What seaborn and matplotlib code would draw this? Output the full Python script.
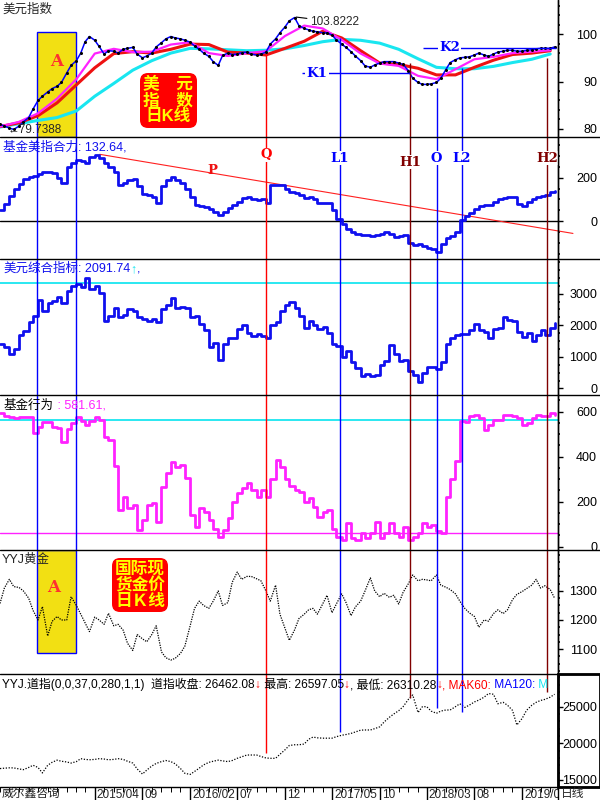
import matplotlib
matplotlib.use("Agg")
import matplotlib.pyplot as plt
import matplotlib.dates as mdates
from matplotlib.lines import Line2D
from matplotlib.patches import Rectangle, FancyBboxPatch
from matplotlib.ticker import FixedLocator, MultipleLocator
from matplotlib.transforms import offset_copy
import seaborn as sns
import pandas as pd

sns.set_style("white")
plt.rcParams["font.family"] = ["Liberation Sans", "Noto Sans CJK SC", "DejaVu Sans"]
plt.rcParams["axes.unicode_minus"] = False

# ---- data ----
dates = pd.date_range("2014-06-01", "2019-04-15", freq="SMS")
ma_dates = pd.date_range("2014-06-01", "2019-04-01", freq="2MS")

dxy = [81.0, 80.6, 80.2, 79.9, 80.6, 81.5, 82.4, 84.2, 86.0, 86.9,
       87.8, 88.5, 89.0, 89.8, 91.8, 93.4, 94.4, 96.0, 98.4, 99.5,
       98.7, 97.4, 95.8, 96.5, 96.4, 96.0, 96.8, 97.0, 97.2, 95.8,
       95.0, 95.4, 96.0, 97.3, 98.2, 99.0, 99.5, 99.2, 99.0, 98.7,
       98.3, 97.5, 96.8, 96.0, 95.3, 94.2, 93.4, 95.5, 96.0, 95.7,
       95.8, 96.1, 96.2, 95.8, 95.6, 95.8, 96.2, 97.9, 99.0, 100.3,
       101.5, 102.8, 103.5, 101.8, 101.2, 100.9, 100.6, 100.5, 100.3, 100.3,
       99.8, 98.8, 97.9, 97.2, 96.3, 95.4, 94.4, 93.3, 93.0, 93.5,
       93.9, 94.2, 94.2, 94.2, 93.9, 93.6, 92.3, 90.7, 89.8, 89.4,
       89.4, 89.5, 89.8, 90.7, 92.5, 94.0, 94.6, 95.0, 95.1, 95.2,
       95.6, 96.0, 95.6, 95.3, 95.8, 96.2, 96.4, 96.6, 96.6, 96.4,
       96.4, 96.6, 96.7, 96.9, 97.0, 97.0, 97.0, 97.3]
ma_magenta = [80.5, 81.5, 83.3, 86.4, 90.5, 95.9, 96.9, 96.2, 96.3, 97.8,
              98.3, 96.0, 95.4, 96.0, 96.4, 99.6, 101.8, 101.2, 98.8, 95.9,
              93.8, 93.3, 91.2, 90.5, 92.6, 94.7, 95.2, 96.0, 96.3, 96.6]
ma_red = [80.5, 81.3, 82.8, 85.5, 89.3, 92.9, 95.9, 96.3, 96.0, 96.8,
          97.9, 97.8, 96.2, 96.0, 95.6, 97.0, 98.5, 100.6, 99.2, 96.5,
          93.9, 93.6, 92.8, 91.4, 91.4, 93.0, 94.5, 95.7, 96.0, 96.5]
ma_cyan = [80.4, 81.1, 81.8, 82.4, 83.8, 86.9, 89.6, 92.4, 94.4, 96.0,
           97.0, 96.9, 96.7, 96.5, 96.6, 96.9, 97.6, 98.4, 98.9, 98.7,
           98.1, 96.8, 94.8, 93.0, 92.7, 92.7, 93.2, 94.0, 94.7, 95.8]

fund_force = [51, 80, 115, 148, 170, 192, 203, 210, 218, 228,
              226, 222, 200, 178, 250, 268, 280, 275, 266, 297,
              303, 290, 268, 248, 225, 168, 178, 188, 196, 160,
              126, 122, 112, 85, 160, 190, 205, 190, 175, 150,
              110, 74, 70, 67, 55, 40, 30, 40, 59, 75,
              88, 105, 110, 100, 98, 103, 85, 165, 168, 166,
              150, 135, 128, 120, 108, 112, 100, 82, 82, 82,
              50, 10, -15, -38, -50, -58, -65, -62, -68, -65,
              -58, -50, -58, -72, -68, -65, -100, -111, -108, -115,
              -124, -130, -142, -105, -80, -70, -52, 5, 22, 36,
              55, 68, 72, 74, 90, 100, 108, 112, 112, 80,
              70, 89, 102, 112, 116, 122, 135, 140]

usd_composite = [1411, 1320, 1100, 1250, 1700, 1830, 2100, 2300, 2810, 2450,
                 2705, 2760, 2900, 2700, 3100, 3230, 3300, 3200, 3500, 3150,
                 3250, 3020, 2150, 2300, 2550, 2250, 2340, 2520, 2450, 2250,
                 2200, 2150, 2200, 2100, 2500, 2650, 2850, 2550, 2580, 2550,
                 2250, 2280, 2050, 1850, 1300, 1450, 900, 1400, 1600, 1600,
                 1880, 2000, 1750, 1650, 1720, 1650, 1600, 2000, 2100, 2450,
                 2650, 2750, 2550, 2300, 1900, 2150, 2000, 1880, 1950, 1750,
                 1420, 1340, 1000, 1180, 850, 650, 380, 450, 400, 440,
                 750, 880, 1380, 1100, 880, 900, 550, 440, 200, 500,
                 680, 680, 620, 850, 1400, 1600, 1690, 1720, 1730, 1850,
                 2050, 1850, 1780, 1600, 1870, 1920, 2250, 2160, 2140, 1800,
                 1620, 1750, 1500, 1680, 1850, 1700, 1900, 2080]

fund_action = [593, 580, 575, 570, 575, 578, 578, 504, 530, 556,
               556, 533, 526, 467, 525, 548, 578, 560, 540, 560,
               578, 563, 489, 474, 360, 163, 222, 170, 185, 74,
               119, 185, 193, 111, 267, 326, 378, 356, 363, 304,
               141, 89, 170, 156, 120, 80, 44, 74, 126, 200,
               237, 260, 281, 252, 222, 250, 222, 300, 385, 356,
               300, 270, 252, 244, 200, 215, 178, 130, 156, 163,
               80, 44, 30, 104, 37, 30, 59, 40, 60, 111,
               37, 60, 104, 59, 44, 89, 30, 45, 59, 104,
               89, 96, 70, 59, 222, 300, 380, 560, 556, 580,
               585, 570, 520, 540, 563, 563, 585, 585, 580, 570,
               540, 550, 570, 585, 580, 582, 593, 585]

gold = [1257, 1310, 1340, 1315, 1312, 1300, 1275, 1233, 1200, 1246,
        1145, 1195, 1212, 1200, 1200, 1280, 1250, 1220, 1190, 1160,
        1210, 1200, 1185, 1223, 1180, 1185, 1165, 1120, 1095, 1150,
        1135, 1125, 1150, 1180, 1090, 1070, 1062, 1068, 1085, 1110,
        1180, 1240, 1265, 1250, 1240, 1265, 1300, 1250, 1260, 1330,
        1365, 1340, 1350, 1350, 1342, 1335, 1300, 1265, 1320, 1220,
        1172, 1130, 1166, 1205, 1220, 1235, 1240, 1220, 1255, 1285,
        1225, 1255, 1290, 1260, 1215, 1245, 1265, 1300, 1345, 1300,
        1280, 1292, 1278, 1285, 1255, 1295, 1325, 1355, 1335, 1340,
        1338, 1335, 1355, 1320, 1313, 1305, 1290, 1265, 1240, 1225,
        1212, 1175, 1200, 1196, 1222, 1235, 1222, 1235, 1270, 1288,
        1298, 1308, 1320, 1340, 1310, 1318, 1305, 1275]

dow = [16550, 16600, 16650, 16640, 16500, 16400, 16700, 17000, 16700, 15950,
       17000, 17400, 17700, 17550, 17450, 17300, 17500, 17900, 17800, 17750,
       17800, 17900, 17850, 17750, 17800, 17900, 17800, 17550, 17300, 16500,
       15800, 16350, 16900, 17250, 17500, 17650, 17500, 17200, 16550, 15900,
       15750, 16150, 16600, 17050, 17400, 17550, 17700, 17600, 17500, 17650,
       17950, 18150, 18400, 18400, 18400, 18200, 18000, 17950, 17950, 18500,
       19100, 19700, 19800, 19800, 19900, 20550, 20850, 20750, 20700, 20700,
       20700, 20900, 21100, 21200, 21350, 21550, 21800, 21820, 21820, 22000,
       22250, 22900, 23550, 24000, 24450, 25000, 26000, 26600, 24200, 25000,
       25000, 24400, 24100, 24400, 24550, 24550, 25000, 25400, 24900, 25200,
       25650, 25900, 26300, 26800, 26700, 25400, 25600, 25200, 24500, 22500,
       23400, 24500, 25200, 25600, 25850, 26000, 26300, 26700]

# marker lines
ev_names = ["Q", "L1", "H1", "O", "L2", "H2"]
ev_dates = pd.to_datetime(["2016-10-02", "2017-05-26", "2018-01-07",
                           "2018-04-02", "2018-06-21", "2019-03-23"])
ev_colors = ["#ff0000", "#0000ff", "#800000", "#0000ff", "#0000ff", "#800000"]
ev_top_dxy = [95.6, 99.2, 93.9, 88.6, 92.8, 94.9]
ev_end_dow = [18675, 21544, 26188, 24822, 24276, 27008]
ev_label_y = [305, 291, 272, 291, 291, 291]

a_start, a_end = pd.Timestamp("2014-09-28"), pd.Timestamp("2015-02-01")
k1_level, k1_span, k1_at = 91.8, pd.to_datetime(["2017-01-24", "2018-01-07"]), pd.Timestamp("2017-03-13")
k2_level, k2_span, k2_at = 97.15, pd.to_datetime(["2018-02-17", "2019-04-19"]), pd.Timestamp("2018-05-13")
p_dates = pd.to_datetime(["2015-04-17", "2019-06-13"])
p_vals = [308, -57]

tick_dates = pd.to_datetime(["2015-04-01", "2015-09-01", "2016-02-01", "2016-07-01", "2016-12-01",
                             "2017-05-01", "2017-10-01", "2018-03-01", "2018-08-01", "2019-01-01"])
tick_labels = ["2015/04", "09", "2016/02", "07", "12", "2017/05", "10", "2018/03", "08", "2019/0"]

x_start, x_end = pd.Timestamp("2014-06-01"), pd.Timestamp("2019-04-26")

# ---- figure ----
W, H = 600, 800
fig = plt.figure(figsize=(6, 8), dpi=100)
fig.patch.set_facecolor("white")


def panel(top, bottom):
    return fig.add_axes([0, 1 - bottom / H, 558 / W, (bottom - top) / H])


def style(ax, lo, hi, majors, minor):
    ax.set_xlim(x_start, x_end)
    ax.set_ylim(lo, hi)
    ax.set_xticks([])
    ax.set_xlabel("")
    ax.set_ylabel("")
    ax.yaxis.tick_right()
    ax.yaxis.set_major_locator(FixedLocator(majors))
    ax.yaxis.set_minor_locator(MultipleLocator(minor))
    ax.tick_params(axis="y", which="major", right=True, direction="out", length=3.6,
                   width=1, color="black", labelsize=9, pad=24.5, labelcolor="black")
    ax.tick_params(axis="y", which="minor", right=True, direction="out", length=1.2,
                   width=1.2, color="black")
    for lab in ax.get_yticklabels():
        lab.set_horizontalalignment("right")
    for s in ("left", "top", "bottom"):
        ax.spines[s].set_visible(False)
    ax.spines["right"].set_color("black")
    ax.spines["right"].set_linewidth(1)


def ftext(x, y, s, **kw):
    kw.setdefault("fontsize", 8.5)
    kw.setdefault("va", "center")
    kw.setdefault("ha", "left")
    return fig.text(x / W, 1 - y / H, s, **kw)


def chain(ax, x, y, parts, size=8.5):
    t = ftext(x, y, parts[0][0], color=parts[0][1], fontsize=size, va="baseline")
    for s, c in parts[1:]:
        t = ax.annotate(s, xy=(1, 0), xycoords=t, va="bottom", ha="left",
                        color=c, fontsize=size)
    return t


def red_box(x0, y0, x1, y1):
    fig.add_artist(FancyBboxPatch((x0 / 100, (H - y1) / 100), (x1 - x0) / 100, (y1 - y0) / 100,
                                  boxstyle="round,pad=0,rounding_size=0.08",
                                  transform=fig.dpi_scale_trans, facecolor="#ff0000",
                                  edgecolor="none", zorder=5))


serif = dict(family="DejaVu Serif", fontweight="bold")

# panel 1: dollar index
ax1 = panel(0, 137)
ax1.axvspan(a_start, a_end, ymin=0, ymax=(100.4 - 78.3) / (107.2 - 78.3),
            facecolor="#f2e013", edgecolor="blue", lw=1, zorder=0)
sns.lineplot(x=ma_dates, y=ma_cyan, ax=ax1, color="#19e6f0", lw=2.2, estimator=None)
sns.lineplot(x=ma_dates, y=ma_red, ax=ax1, color="#ee1111", lw=2.2, estimator=None)
sns.lineplot(x=ma_dates, y=ma_magenta, ax=ax1, color="#ff22ff", lw=1.6, estimator=None)
sns.lineplot(x=dates, y=dxy, ax=ax1, color="blue", lw=1.1, estimator=None)
ax1.plot(dates, dxy, ls="none", marker=".", ms=2.4, color="black")
ax1.vlines(ev_dates, ev_top_dxy, 78.3, colors=ev_colors, lw=1)
ax1.hlines([k1_level], k1_span[0], k1_span[1], color="blue", lw=1)
ax1.hlines([k2_level], k2_span[0], k2_span[1], color="blue", lw=1)
ax1.text(k1_at, k1_level, "K1", color="blue", fontsize=9.5, ha="center", va="center",
         bbox=dict(facecolor="white", edgecolor="none", pad=1.0), **serif)
ax1.text(k2_at, k2_level, "K2", color="blue", fontsize=9.5, ha="center", va="center",
         bbox=dict(facecolor="white", edgecolor="none", pad=1.0), **serif)
ax1.annotate("103.8222", xy=(pd.Timestamp("2017-01-06"), 103.6),
             xytext=(pd.Timestamp("2017-02-20"), 102.6), fontsize=8.5, va="center",
             arrowprops=dict(arrowstyle="-", color="black", lw=0.8, shrinkA=0, shrinkB=0))
ax1.text(pd.Timestamp("2014-06-26"), 79.7, "←79.7388", fontsize=8.5, va="center")
style(ax1, 78.3, 107.2, [80, 90, 100], 2)

# panel 2
ax2 = panel(137, 259)
ax2.axhline(0, color="black", lw=1)
ax2.plot(p_dates, p_vals, color="#ff2020", lw=0.8, clip_on=False)
sns.lineplot(x=dates, y=fund_force, ax=ax2, color="#1010ee", lw=2, drawstyle="steps-post",
             estimator=None)
ax2.text(pd.Timestamp("2016-04-13"), 235, "P", color="#ee1111", fontsize=9.5,
         ha="center", va="center", **serif)
for n, d, c, yv in zip(ev_names, ev_dates, ev_colors, ev_label_y):
    ax2.text(d, yv, n, color=c, fontsize=9.5, ha="center", va="center", zorder=6,
             bbox=dict(facecolor="white", edgecolor="none", pad=0.3), **serif)
style(ax2, -175, 388, [0, 200], 50)

# panel 3
ax3 = panel(259, 395)
ax3.axhline(3337, color="#19e6f0", lw=1.3)
sns.lineplot(x=dates, y=usd_composite, ax=ax3, color="#1010ee", lw=2, drawstyle="steps-post",
             estimator=None)
style(ax3, -206, 4098, [0, 1000, 2000, 3000], 250)

# panel 4
ax4 = panel(395, 550)
ax4.axhline(563, color="#19e6f0", lw=1.3)
ax4.axhline(59, color="#ff22ff", lw=1)
sns.lineplot(x=dates, y=fund_action, ax=ax4, color="#ff22ff", lw=2, drawstyle="steps-post",
             estimator=None)
style(ax4, -15, 674, [0, 200, 400, 600], 50)

# panel 5: gold
ax5 = panel(550, 674)
ax5.axvspan(a_start, a_end, ymin=(1086 - 1014) / (1441 - 1014), ymax=1,
            facecolor="#f2e013", edgecolor="blue", lw=1, zorder=0)
sns.lineplot(x=dates, y=gold, ax=ax5, color="black", lw=0.9, linestyle=(0, (1, 1)),
             estimator=None)
style(ax5, 1014, 1441, [1100, 1200, 1300], 25)

# panel 6: dow
ax6 = panel(674, 787)
sns.lineplot(x=dates, y=dow, ax=ax6, color="black", lw=0.9, linestyle=(0, (1, 1.3)),
             estimator=None)
ax6.vlines(ev_dates, ev_end_dow, 29467, colors=ev_colors, lw=1)
style(ax6, 14031, 29467, [15000, 20000, 25000], 1000)

for ax in (ax2, ax3, ax4, ax5):
    for d, c in zip(ev_dates, ev_colors):
        ax.axvline(d, color=c, lw=1)
for ax in (ax2, ax3, ax4):
    ax.axvline(a_start, color="blue", lw=1)
    ax.axvline(a_end, color="blue", lw=1)

# bottom date strip
ax7 = fig.add_axes([0, 0, 558 / W, 13 / H])
ax7.set_xlim(x_start, x_end)
ax7.set_ylim(0, 1)
ax7.axis("off")
ax7.vlines(pd.date_range("2014-06-01", "2019-04-01", freq="MS"), 0.6, 1, color="black", lw=0.7)
ax7.vlines(tick_dates, 0, 1, color="black", lw=1)
tr = offset_copy(ax7.transData, fig=fig, x=1.5, y=0, units="points")
for d, lab in zip(tick_dates, tick_labels):
    ax7.text(mdates.date2num(d), 0.42, lab, transform=tr, ha="left", va="center",
             fontsize=8.5, clip_on=True)
ftext(2, 794, "威尔鑫咨询", fontsize=8.5)
ftext(561, 794, "日线", fontsize=8.5)

# frames
for y in (137, 259, 395, 550, 674, 787):
    fig.add_artist(Line2D([0, 1], [1 - y / H] * 2, transform=fig.transFigure, color="black", lw=1))
fig.add_artist(Line2D([558 / W] * 2, [0, 1], transform=fig.transFigure, color="black", lw=1))
fig.add_artist(Rectangle((558 / W, 13 / H), 42 / W, 113 / H, transform=fig.transFigure,
                         fill=False, edgecolor="black", lw=2))

# headers
ftext(2, 10, "美元指数", fontsize=9)
ftext(3, 147, "基金美指合力: 132.64,", color="#1010ee", fontsize=9)
chain(ax3, 3, 272, [("美元综合指标", "#1010ee"), (": 2091.74", "#1010ee"),
                    ("↑", "#19e6f0"), (",", "#1010ee")], size=9)
chain(ax4, 4, 409, [("基金行为", "black"), (" : 581.61,", "#ff22ff")], size=9)
ftext(2, 560, "YYJ黄金", fontsize=9)
chain(ax6, 2, 688, [("YYJ.道指(0,0,37,0,280,1,1)  道指收盘: 26462.08", "black"), ("↓", "red"),
                    (" 最高: 26597.05", "black"), ("↓", "red"), (", 最低: 26310.28", "black"),
                    ("↓", "red"), (", MAK60:", "red"), (" MA120:", "blue"), (" M", "#19e6f0")],
      size=8.6)

# red label boxes and A marks
red_box(140, 73, 197, 128)
ftext(168, 100, "美　元\n指　数\n日K线", color="#ffff00", fontsize=12, fontweight="bold",
      ha="center", linespacing=1.05, zorder=6)
red_box(112, 558, 168, 612)
ftext(140, 585, "国际现\n货金价\n日Ｋ线", color="#ffff00", fontsize=12, fontweight="bold",
      ha="center", linespacing=1.05, zorder=6)
ftext(57, 61, "A", color="#ff3030", fontsize=12, ha="center", **serif)
ftext(54, 587, "A", color="#ff3030", fontsize=12, ha="center", **serif)

fig.savefig("out.png", dpi=100)
